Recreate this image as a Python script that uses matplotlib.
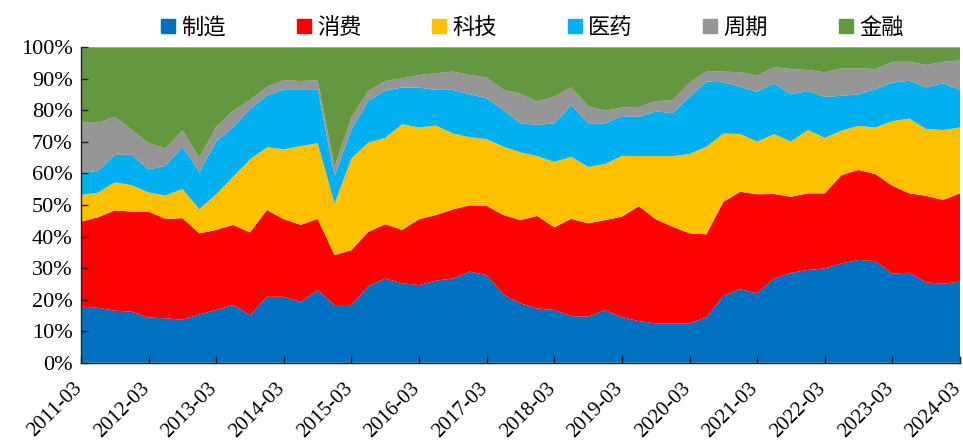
import matplotlib
matplotlib.use("Agg")
import matplotlib.pyplot as plt
import matplotlib.transforms as mtransforms
from matplotlib.lines import Line2D

quarters = [f"{y}-{m:02d}" for y in range(2011, 2025) for m in (3, 6, 9, 12)][:53]

series_names = ["制造", "消费", "科技", "医药", "周期", "金融"]

manufacturing = [17.8, 17.4, 16.5, 16.2, 14.3, 14.1, 13.6, 15.3, 16.7, 18.3, 15.1, 20.9, 20.9, 19.3,
                 23.0, 18.3, 18.3, 24.3, 26.7, 25.2, 24.6, 26.0, 26.7, 28.9, 27.8, 21.5, 18.8, 17.2,
                 16.7, 14.8, 14.6, 16.7, 14.4, 13.2, 12.5, 12.5, 12.5, 14.4, 21.2, 23.3, 22.0, 26.7,
                 28.5, 29.4, 29.9, 31.5, 32.6, 32.2, 28.3, 28.5, 25.5, 25.0, 25.7]
consumer = [26.9, 28.7, 31.8, 31.7, 33.6, 31.5, 32.2, 25.7, 25.4, 25.4, 26.2, 27.5, 24.6, 24.4,
            22.6, 15.8, 17.4, 17.2, 17.2, 16.9, 20.9, 20.8, 21.9, 21.0, 21.9, 25.3, 26.4, 29.3,
            26.2, 30.8, 29.6, 28.5, 31.9, 36.4, 33.0, 30.6, 28.5, 26.3, 29.8, 30.9, 31.4, 26.8,
            24.1, 24.3, 23.8, 28.0, 28.5, 27.6, 27.8, 25.2, 27.4, 26.6, 28.0]
technology = [8.5, 7.8, 8.9, 8.4, 6.1, 7.4, 9.3, 7.7, 11.3, 15.3, 23.2, 19.9, 22.2, 25.0,
              24.0, 16.4, 29.1, 28.3, 27.4, 33.5, 29.1, 28.4, 24.1, 21.6, 21.2, 21.7, 21.5, 19.0,
              20.8, 19.7, 17.9, 17.8, 19.3, 15.9, 20.0, 22.4, 25.2, 27.8, 21.7, 18.3, 16.7, 19.0,
              17.5, 20.1, 17.6, 14.1, 14.0, 14.8, 20.5, 23.7, 21.2, 22.2, 20.9]
medicine = [6.8, 7.0, 8.7, 9.6, 7.3, 9.4, 13.4, 11.7, 16.7, 15.8, 15.9, 16.4, 19.0, 18.0,
            17.1, 8.7, 9.2, 13.3, 14.9, 11.7, 12.6, 11.3, 13.8, 13.6, 12.9, 11.6, 9.2, 9.9,
            12.2, 16.4, 13.8, 12.9, 12.6, 12.4, 14.2, 13.6, 18.1, 20.6, 16.2, 15.0, 15.8, 16.1,
            15.0, 12.3, 13.0, 11.0, 10.0, 12.1, 12.2, 12.0, 13.2, 14.8, 11.9]
cyclical = [16.2, 15.2, 12.1, 7.9, 8.3, 5.6, 5.1, 4.7, 4.7, 5.0, 2.9, 2.8, 2.9, 2.6,
            2.9, 2.9, 3.8, 3.1, 3.1, 2.9, 4.0, 5.3, 5.8, 6.1, 6.6, 6.4, 9.3, 7.4,
            8.4, 5.6, 5.5, 4.0, 2.7, 3.2, 3.2, 4.2, 4.5, 3.2, 3.4, 4.6, 5.1, 5.1,
            8.0, 6.7, 7.8, 8.7, 8.2, 6.4, 6.6, 6.0, 7.1, 6.8, 9.3]
finance = [23.8, 23.9, 22.0, 26.2, 30.4, 32.0, 26.4, 34.9, 25.2, 20.2, 16.7, 12.5, 10.4, 10.7,
           10.4, 37.9, 22.2, 13.8, 10.7, 9.8, 8.8, 8.2, 7.7, 8.8, 9.6, 13.5, 14.8, 17.2,
           15.7, 12.7, 18.6, 20.1, 19.1, 18.9, 17.1, 16.7, 11.2, 7.7, 7.7, 7.9, 9.0, 6.3,
           6.9, 7.2, 7.9, 6.7, 6.7, 6.9, 4.6, 4.6, 5.6, 4.6, 4.2]

colors = ["#0070C0", "#FF0000", "#FFC000", "#00B0F0", "#969696", "#64973F"]

y_ticks = list(range(0, 101, 10))
y_tick_labels = [f"{v}%" for v in y_ticks]

fig = plt.figure(figsize=(9.63, 4.43), dpi=100)
ax = fig.add_axes([81 / 963, 80.3 / 443, 879 / 963, 315.4 / 443])

x = list(range(len(quarters)))
ax.stackplot(x, manufacturing, consumer, technology, medicine, cyclical, finance,
             colors=colors, linewidth=0)

ax.set_xlim(0, len(quarters) - 1)
ax.set_ylim(0, 100)

xt = list(range(0, len(quarters), 4))
ax.set_xticks(xt)
ax.set_xticklabels([])
label_tf = mtransforms.blended_transform_factory(ax.transData, ax.transAxes) + \
    mtransforms.ScaledTranslation(-0.085, -0.16, fig.dpi_scale_trans)
for i in xt:
    ax.text(i, 0, quarters[i], transform=label_tf, rotation=45, ha="right", va="top",
            rotation_mode="anchor", fontsize=15, family="Liberation Serif", clip_on=False)

ax.set_yticks(y_ticks)
ax.set_yticklabels(y_tick_labels, fontsize=16, family="Liberation Serif")
ax.tick_params(axis="both", direction="in", length=5, width=1, color="#222222")
ax.tick_params(axis="y", pad=6)

for s in ["top", "right"]:
    ax.spines[s].set_visible(False)
for s in ["left", "bottom"]:
    ax.spines[s].set_color("#222222")
    ax.spines[s].set_linewidth(1)

handles = [Line2D([], [], marker="s", linestyle="none", markersize=10,
                  markerfacecolor=c, markeredgecolor=c) for c in colors]
fig.legend(handles, series_names, loc="upper center", bbox_to_anchor=(0.553, 1.01),
           ncol=6, frameon=False, handlelength=0.6, handletextpad=0.3, columnspacing=3.2,
           prop={"family": ["Noto Sans CJK SC", "DejaVu Sans"], "size": 16})

fig.savefig("out.png", dpi=100)
